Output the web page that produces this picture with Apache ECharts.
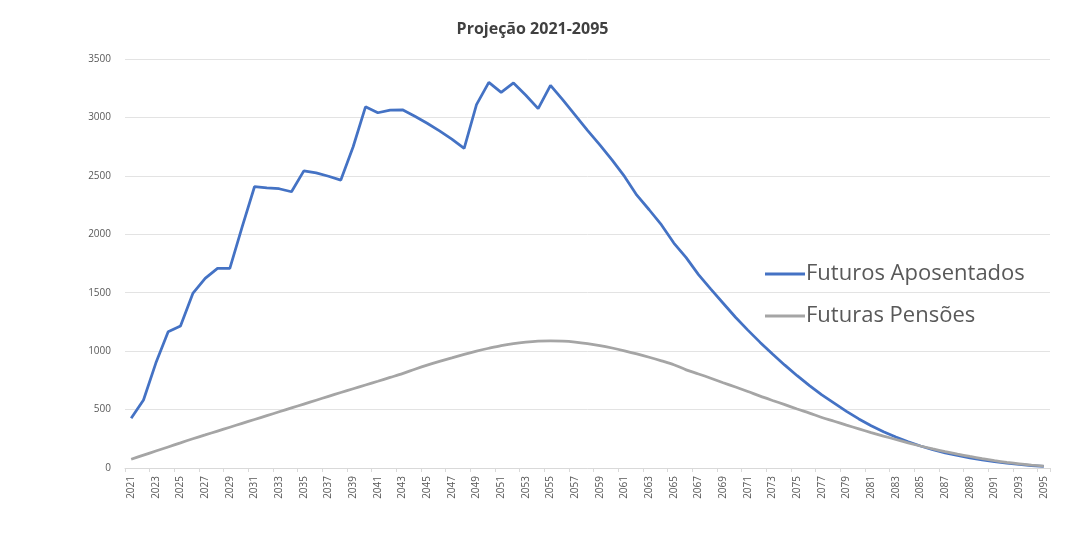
<!DOCTYPE html>
<html>
<head>
<meta charset="utf-8">
<script src="https://cdn.jsdelivr.net/npm/echarts@6/dist/echarts.min.js"></script>
<style>html,body{margin:0;padding:0;background:#fff}#c{width:1065px;height:540px}</style>
</head>
<body>
<div id="c"></div>
<script>
const years = [];
for (let y = 2021; y <= 2095; y++) years.push(String(y));

const aposentados = [
  425, 582, 898, 1166, 1215, 1494, 1623, 1708, 1708, 2064,
  2407, 2398, 2390, 2364, 2543, 2525, 2497, 2464, 2749, 3091,
  3040, 3063, 3065, 3010, 2950, 2885, 2815, 2735, 3110, 3300,
  3215, 3295, 3190, 3075, 3275, 3150, 3020, 2890, 2765, 2635,
  2495, 2335, 2210, 2080, 1925, 1800, 1655, 1530, 1410, 1290,
  1180, 1075, 975, 880, 790, 705, 625, 555, 485, 420,
  362, 310, 265, 225, 188, 156, 130, 107, 87, 70,
  54, 41, 30, 21, 14
];

const pensoes = [
  75, 110, 145, 180, 215, 250, 283, 316, 349, 382,
  415, 448, 481, 514, 547, 580, 613, 646, 678, 710,
  742, 775, 808, 845, 880, 912, 942, 972, 1000, 1025,
  1048, 1065, 1077, 1085, 1088, 1086, 1078, 1065, 1048, 1027,
  1003, 977, 948, 917, 884, 840, 805, 768, 730, 693,
  655, 615, 578, 542, 505, 470, 432, 400, 367, 335,
  303, 273, 244, 215, 188, 163, 140, 119, 99, 80,
  63, 48, 35, 25, 17
];

const yTicks = [0, 500, 1000, 1500, 2000, 2500, 3000, 3500];
const seriesNames = ['Futuros Aposentados', 'Futuras Pensões'];
const titleText = 'Projeção 2021-2095';

const chart = echarts.init(document.getElementById('c'), null, {renderer: 'canvas'});
chart.setOption({
  animation: false,
  backgroundColor: '#ffffff',
  title: {
    text: titleText,
    left: 'center',
    top: 16,
    textStyle: {fontFamily: 'Open Sans', fontSize: 16, fontWeight: 'bold', color: '#404040'}
  },
  legend: {
    orient: 'vertical',
    left: 760,
    top: 258,
    itemGap: 20,
    icon: 'rect',
    itemWidth: 40,
    itemHeight: 3,
    textStyle: {fontFamily: 'Open Sans', fontSize: 22, color: '#595959', padding: [0, 0, 0, -4]},
    data: seriesNames
  },
  grid: {left: 125, right: 15, top: 59, bottom: 72},
  xAxis: {
    type: 'category',
    data: years,
    boundaryGap: true,
    axisLine: {lineStyle: {color: '#d9d9d9', width: 1}},
    axisTick: {show: true, alignWithLabel: false, length: 4, lineStyle: {color: '#d9d9d9'}},
    axisLabel: {rotate: 90, interval: 1, fontFamily: 'Open Sans', fontSize: 10, color: '#595959', margin: 8}
  },
  yAxis: {
    type: 'value',
    min: yTicks[0],
    max: yTicks[yTicks.length - 1],
    interval: 500,
    axisLine: {show: false},
    axisTick: {show: false},
    splitLine: {lineStyle: {color: '#e3e3e3', width: 1}},
    axisLabel: {fontFamily: 'Open Sans', fontSize: 10, color: '#595959', margin: 14, formatter: v => String(v)}
  },
  series: [
    {
      name: seriesNames[0],
      type: 'line',
      data: aposentados,
      showSymbol: false,
      symbol: 'none',
      lineStyle: {color: '#4472C4', width: 2.75},
      itemStyle: {color: '#4472C4'}
    },
    {
      name: seriesNames[1],
      type: 'line',
      data: pensoes,
      showSymbol: false,
      symbol: 'none',
      smooth: 0.3,
      lineStyle: {color: '#A5A5A5', width: 2.75},
      itemStyle: {color: '#A5A5A5'}
    }
  ]
});
</script>
</body>
</html>
